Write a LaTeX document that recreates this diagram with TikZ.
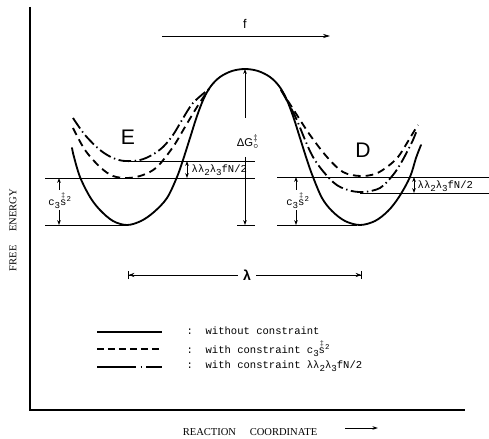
\documentclass[tikz,border=0pt]{standalone}
\usepackage{fontspec}
\setmainfont{Liberation Serif}
\setsansfont{Liberation Sans}
\setmonofont{Liberation Mono}
\usetikzlibrary{arrows.meta}
\newcommand{\lowsub}[1]{\raisebox{-0.5ex}{\fontsize{6.5}{6.5}\selectfont #1}}
\newcommand{\sdag}{$\stackrel{\scriptscriptstyle\ddagger}{\mbox{s}}$}
\tikzset{
  well/.style={line width=1.3pt, line join=round, line cap=round},
  wellc/.style={well, line cap=butt, dash pattern=on 5.5pt off 3.5pt},
  wellf/.style={well, line cap=butt, dash pattern=on 9pt off 2.5pt on 1pt off 2.5pt},
  levelline/.style={line width=0.6pt},
  gaparrow/.style={{Stealth[length=3.5pt,width=2.6pt]}-{Stealth[length=3.5pt,width=2.6pt]}, line width=0.5pt},
  ttlabel/.style={font=\ttfamily\fontsize{7.5}{9}\selectfont, inner sep=1pt},
  rmlabel/.style={font=\rmfamily\fontsize{7.5}{9}\selectfont, inner sep=1pt},
  letter/.style={font=\sffamily\fontsize{15}{18}\selectfont}
}

\begin{document}
\begin{tikzpicture}[x=0.025cm, y=-0.025cm]
\useasboundingbox (0,0) rectangle (489,439);

% Axes
\draw[line width=1.1pt] (30,7) -- (30,410) -- (465,410);
\node[rmlabel, rotate=90] (yname) at (13,230) {FREE\hspace{1.3em}ENERGY};
\node[rmlabel] (xname) at (250,432) {REACTION\hspace{1.3em}COORDINATE};
\coordinate (xarr1) at (345,428);
\coordinate (xarr2) at (378,428);
\draw[line width=0.6pt, -{Stealth[length=4pt,width=2.5pt]}] (xarr1) -- (xarr2);

% Force arrow
\coordinate (f1) at (162,36);
\coordinate (f2) at (330,36);
\draw[line width=0.6pt, -{Stealth[length=5pt,width=3pt]}] (f1) -- (f2);
\node[font=\sffamily\fontsize{9}{10}\selectfont] (flab) at (245,24) {f};

% Energy curves
\draw[well] plot[smooth, tension=0.55] coordinates {
  (72,148) (74,157) (80,177) (90,197) (100,210) (113,221) (127,225) (141,221)
  (154,212) (167,198)
  (177,177) (183,160) (190,138) (197,116) (204,98) (211,86) (220,77) (232,71)
  (245,69) (258,71) (270,77) (279,86) (286,98) (293,116) (300,138) (307,160)
  (313,177) (322,198) (332,211) (345,221) (360,225) (375,221) (388,211)
  (399,197) (410,177) (416,158) (421,145)}; % without constraint
\draw[wellc] plot[smooth, tension=0.55] coordinates {
  (73,128) (85,150) (100,167) (113,176) (128,178) (143,175) (157,167) (173,147)
  (185,127) (197,107) (209,89)}; % c3 s^2, left
\draw[wellf] plot[smooth, tension=0.55] coordinates {
  (73,118) (85,135) (100,150) (113,158) (125,161) (140,160) (152,155) (163,147)
  (173,135) (182,120) (193,103) (209,89)}; % lambda, left
\draw[wellc] plot[smooth, tension=0.55] coordinates {
  (281,90) (295,112) (310,135) (327,157) (343,172) (360,176) (375,174) (387,167)
  (398,157) (407,143) (413,133) (418,125)}; % c3 s^2, right
\draw[wellf] plot[smooth, tension=0.55] coordinates {
  (281,90) (295,116) (313,157) (333,182) (348,190) (363,192) (380,188) (393,175)
  (401,163) (408,150) (413,140) (417,130)}; % lambda, right

\node[letter] (E) at (128,137) {E};
\node[letter] (D) at (363,150) {D};

% Levels, left well
\draw[levelline] (123,161) -- (255,161);
\draw[levelline] (45,178) -- (255,178);
\draw[levelline] (45,225) -- (128,225);
\draw[levelline] (237,225) -- (255,225);
% Levels, right well
\draw[levelline] (277,177) -- (489,177);
\draw[levelline] (360,193) -- (489,193);
\draw[levelline] (277,225) -- (357,225);

% Barrier height
\coordinate (peak) at (245,69);
\coordinate (dg1) at (245,118);
\coordinate (dg2) at (245,157);
\coordinate (base) at (245,225);
\draw[line width=0.5pt, -{Stealth[length=3.5pt,width=2.6pt]}] (dg1) -- (peak);
\draw[line width=0.5pt, -{Stealth[length=3.5pt,width=2.6pt]}] (dg2) -- (base);
\node[font=\sffamily\fontsize{8}{9}\selectfont, inner sep=1pt] (dG) at (248,142) {ΔG$^{\ddagger}_{\circ}$};

% Gaps, left well
\coordinate (cl1) at (59,178);
\coordinate (cl2) at (59,225);
\draw[gaparrow] (cl1) -- (cl2);
\node[ttlabel, fill=white] (csl) at (60,200) {c\lowsub{3}\sdag\textsuperscript{2}};
\coordinate (ll1) at (187,161);
\coordinate (ll2) at (187,178);
\draw[gaparrow] (ll1) -- (ll2);
\node[ttlabel, anchor=west] (lal) at (190,170) {λλ\lowsub{2}λ\lowsub{3}fN/2};

% Gaps, right well
\coordinate (cr1) at (296,177);
\coordinate (cr2) at (296,225);
\draw[gaparrow] (cr1) -- (cr2);
\node[ttlabel, fill=white] (csr) at (298,200) {c\lowsub{3}\sdag\textsuperscript{2}};
\coordinate (lr1) at (414,177);
\coordinate (lr2) at (414,193);
\draw[gaparrow] (lr1) -- (lr2);
\node[ttlabel, anchor=west] (lar) at (416,186) {λλ\lowsub{2}λ\lowsub{3}fN/2};

% Well distance
\coordinate (w1) at (128,275);
\coordinate (w2) at (362,275);
\draw[line width=0.5pt, {Bar[width=6pt]Stealth[length=4pt,width=3pt]}-{Stealth[length=4pt,width=3pt]Bar[width=6pt]}] (w1) -- (w2);
\node[fill=white, font=\sffamily\bfseries\fontsize{10}{10}\selectfont] (lam) at (247,275) {λ};

% Legend
\draw[line width=1pt] (97,332) -- (162,332);
\draw[line width=1pt, dash pattern=on 5pt off 2.8pt] (97,349) -- (162,349);
\draw[line width=1pt, dash pattern=on 28pt off 3pt on 1pt off 3pt] (97,367) -- (162,367);
\node[ttlabel, anchor=west] (leg1) at (185,331) {:\hspace{1.2em}without constraint};
\node[ttlabel, anchor=west] (leg2) at (185,348) {:\hspace{1.2em}with constraint c\lowsub{3}\sdag\textsuperscript{2}};
\node[ttlabel, anchor=west] (leg3) at (185,366) {:\hspace{1.2em}with constraint λλ\lowsub{2}λ\lowsub{3}fN/2};
\end{tikzpicture}
\end{document}
